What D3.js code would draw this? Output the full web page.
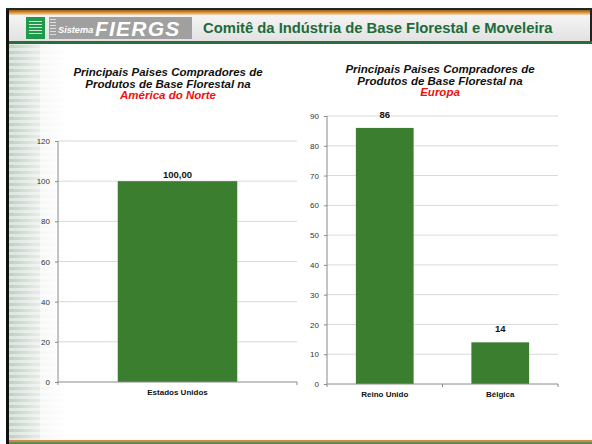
<!DOCTYPE html>
<html>
<head>
  <meta charset="utf-8">
  <title></title>
  <style>
    body { margin: 0; background: #fff; }
    svg text { font-family: "Liberation Sans", Arial, sans-serif; }
    .grid line { stroke: #d9d9d9; stroke-width: 1; }
    .axis path, .axis line { stroke: #8a8a8a; }
    .axis text { fill: #333; font-size: 8px; }
  </style>
</head>
<body>
<svg width="592" height="444"></svg>
<script src="https://cdn.jsdelivr.net/npm/d3@7"></script>
<script>

var headerTitle = "Comitê da Indústria de Base Florestal e Moveleira";

// America do Norte
var naCategories = ["Estados Unidos"];
var naValues = [100];
var naLabels = ["100,00"];
var naTicks = [0, 20, 40, 60, 80, 100, 120];

// Europa
var euCategories = ["Reino Unido", "Bélgica"];
var euValues = [86, 14];
var euLabels = ["86", "14"];
var euTicks = [0, 10, 20, 30, 40, 50, 60, 70, 80, 90];

var titleLines = ["Principais Paises Compradores de", "Produtos de Base Florestal  na"];

var svg = d3.select("svg");
var defs = svg.append("defs");

// ---- slide frame ----
var fade = defs.append("linearGradient").attr("id", "fade");
fade.append("stop").attr("offset", "0%").attr("stop-color", "#bfcfc3");
fade.append("stop").attr("offset", "45%").attr("stop-color", "#e3eae4");
fade.append("stop").attr("offset", "100%").attr("stop-color", "#ffffff");

var stripe = defs.append("pattern").attr("id", "stripe")
  .attr("patternUnits", "userSpaceOnUse").attr("width", 60).attr("height", 6);
stripe.append("rect").attr("width", 60).attr("height", 3).attr("fill", "#fff").attr("opacity", 0.45);

var hdr = defs.append("linearGradient").attr("id", "hdr").attr("x1", 0).attr("y1", 0).attr("x2", 0).attr("y2", 1);
hdr.append("stop").attr("offset", "0%").attr("stop-color", "#f4f4f4");
hdr.append("stop").attr("offset", "100%").attr("stop-color", "#e2e2e2");

var orange = defs.append("linearGradient").attr("id", "orange").attr("x1", 0).attr("y1", 0).attr("x2", 0).attr("y2", 1);
orange.append("stop").attr("offset", "0%").attr("stop-color", "#9a5a1a");
orange.append("stop").attr("offset", "50%").attr("stop-color", "#d9913f");
orange.append("stop").attr("offset", "100%").attr("stop-color", "#f2dcc0");

svg.append("rect").attr("x", 9).attr("y", 43).attr("width", 60).attr("height", 398).attr("fill", "url(#fade)");
svg.append("rect").attr("x", 9).attr("y", 43).attr("width", 60).attr("height", 398).attr("fill", "url(#stripe)");
svg.append("rect").attr("x", 40).attr("y", 43).attr("width", 30).attr("height", 398).attr("fill", "#fff").attr("opacity", 0.6);

svg.append("rect").attr("x", 6).attr("y", 8).attr("width", 3).attr("height", 436).attr("fill", "#111");
svg.append("rect").attr("x", 590).attr("y", 8).attr("width", 2).attr("height", 36).attr("fill", "#222");
svg.append("rect").attr("x", 6).attr("y", 8).attr("width", 586).attr("height", 2).attr("fill", "#1c2a20");
svg.append("rect").attr("x", 9).attr("y", 10).attr("width", 581).attr("height", 5).attr("fill", "url(#orange)");
svg.append("rect").attr("x", 9).attr("y", 15).attr("width", 581).attr("height", 26).attr("fill", "url(#hdr)");
svg.append("rect").attr("x", 9).attr("y", 41).attr("width", 583).attr("height", 3).attr("fill", "#2e6b3e");
svg.append("rect").attr("x", 9).attr("y", 440).attr("width", 583).attr("height", 2).attr("fill", "#d08a45");
svg.append("rect").attr("x", 9).attr("y", 442).attr("width", 583).attr("height", 2).attr("fill", "#5f8a55");

// logo
svg.append("rect").attr("x", 26).attr("y", 17).attr("width", 19).attr("height", 22).attr("fill", "#1e9a4a");
[21, 24, 27, 30, 33].forEach(function(y) {
  svg.append("rect").attr("x", 29).attr("y", y).attr("width", 13).attr("height", 1).attr("fill", "#cfe8d5");
});
svg.append("rect").attr("x", 49).attr("y", 17).attr("width", 143).attr("height", 22).attr("fill", "#a0a0a0");
[19, 22, 25, 28, 31, 34].forEach(function(y) {
  svg.append("rect").attr("x", 50).attr("y", y).attr("width", 6).attr("height", 1).attr("fill", "#dcdcdc");
});
svg.append("text").attr("x", 58).attr("y", 33).attr("fill", "#fff")
  .attr("font-size", 9.2).attr("font-weight", "bold").attr("font-style", "italic").text("Sistema");
svg.append("text").attr("x", 95).attr("y", 36).attr("fill", "#fff")
  .attr("font-size", 21).attr("letter-spacing", 1.2).attr("font-weight", "bold").attr("font-style", "italic").text("FIERGS");
svg.append("text").attr("x", 203).attr("y", 33).attr("fill", "#1d6b3a")
  .attr("font-size", 14.8).attr("font-weight", "bold").text(headerTitle);

// ---- charts ----
function drawTitle(cx, y0, region) {
  var t = svg.append("text").attr("text-anchor", "middle")
    .attr("font-size", 11.5).attr("font-weight", "bold").attr("font-style", "italic");
  titleLines.forEach(function(s, i) {
    t.append("tspan").attr("x", cx).attr("y", y0 + i * 11.5).attr("fill", "#111").text(s);
  });
  t.append("tspan").attr("x", cx).attr("y", y0 + 23).attr("fill", "#f01010").text(region);
}

function drawChart(o) {
  var y = d3.scaleLinear().domain([0, o.max]).range([o.y0, o.y1]);
  var x = d3.scaleBand().domain(o.cats).range([o.x0, o.x1]).paddingInner(0.5).paddingOuter(0.25);

  svg.append("g").attr("class", "grid")
    .selectAll("line").data(o.ticks.slice(1)).enter().append("line")
    .attr("x1", o.x0).attr("x2", o.x1)
    .attr("y1", function(d) { return y(d); }).attr("y2", function(d) { return y(d); });

  svg.append("g").selectAll("rect").data(o.vals).enter().append("rect")
    .attr("x", function(d, i) { return x(o.cats[i]); })
    .attr("y", function(d) { return y(d); })
    .attr("width", x.bandwidth())
    .attr("height", function(d) { return y(0) - y(d); })
    .attr("fill", "#3c7e30");

  svg.append("g").selectAll("text").data(o.vals).enter().append("text")
    .attr("x", function(d, i) { return x(o.cats[i]) + x.bandwidth() / 2; })
    .attr("y", function(d) { return y(d) - o.lblOff; })
    .attr("text-anchor", "middle").attr("font-size", 9.5).attr("font-weight", "bold").attr("fill", "#111")
    .text(function(d, i) { return o.labels[i]; });

  var ya = svg.append("g").attr("class", "axis").attr("transform", "translate(" + o.x0 + ",0)")
    .call(d3.axisLeft(y).tickValues(o.ticks).tickSize(3).tickPadding(5));
  ya.select(".domain").attr("d", "M0," + o.y0 + "V" + o.y1);

  // x axis line with ticks at band edges
  var xa = svg.append("g").attr("class", "axis");
  xa.append("line").attr("x1", o.x0).attr("x2", o.x1).attr("y1", y(0)).attr("y2", y(0));
  var edges = [o.x0].concat(o.cats.map(function(c) { return x(c) + x.bandwidth() / 2 + x.step() / 2; }));
  xa.selectAll("line.tk").data(edges).enter().append("line").attr("class", "tk")
    .attr("x1", function(d) { return d; }).attr("x2", function(d) { return d; })
    .attr("y1", y(0)).attr("y2", y(0) + 3);
  xa.selectAll("text").data(o.cats).enter().append("text")
    .attr("x", function(d) { return x(d) + x.bandwidth() / 2; })
    .attr("y", y(0) + 13)
    .attr("text-anchor", "middle").attr("font-weight", "bold")
    .style("font-size", "8px").style("fill", "#111")
    .text(function(d) { return d; });
}

drawTitle(168, 76, "América do Norte");
drawChart({ cats: naCategories, vals: naValues, labels: naLabels, ticks: naTicks, max: 120,
  x0: 58, x1: 297, y0: 382, y1: 141, lblOff: 3 });

drawTitle(440, 73, "Europa");
drawChart({ cats: euCategories, vals: euValues, labels: euLabels, ticks: euTicks, max: 90,
  x0: 327, x1: 558, y0: 384, y1: 116, lblOff: 10 });

</script>
</body>
</html>
